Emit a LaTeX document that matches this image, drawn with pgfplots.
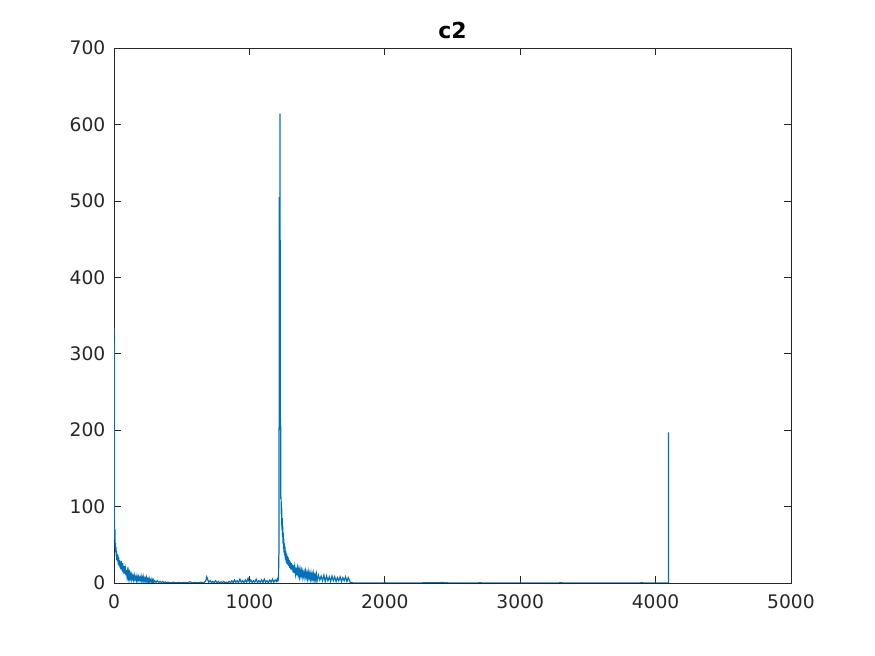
\documentclass[border=0pt]{standalone}
\usepackage{fontspec}
\setmainfont{DejaVu Sans}
\usepackage{pgfplots}
\pgfplotsset{compat=1.18}
\definecolor{mblue}{RGB}{0,114,189}
\definecolor{maxis}{RGB}{38,38,38}

\begin{document}
\begin{tikzpicture}
\path[use as bounding box] (-85.5pt,-54.75pt) rectangle (570.75pt,437.25pt);
\begin{axis}[
	scale only axis,
	width=507.75pt,
	height=401.25pt,
	xmin=0, xmax=5000,
	ymin=0, ymax=700,
	xtick={0,1000,...,5000},
	ytick={0,100,...,700},
	axis line style={maxis, line width=0.5pt},
	tick style={maxis, line width=0.5pt},
	tick align=inside,
	major tick length=5pt,
	ticklabel style={font=\fontsize{14}{16}\selectfont, text=maxis},
	xticklabel style={yshift=-5pt},
	yticklabel style={xshift=-3pt},
	/pgf/number format/assume math mode=true,
	/pgf/number format/set thousands separator={},
	title={\textbf{c2}},
	title style={font=\fontsize{16.5}{18}\selectfont, yshift=-3pt},
	clip=true]

	% signal
	\addplot[color=mblue, line width=0.9pt] coordinates {
		(1,333) (2,168) (3,76) (5,58) (7,70) (9,45) (11,52) (13,40) (15,47)
		(17,35) (19,42) (21,30) (23,38) (26,28) (29,36) (32,24) (35,33) (38,22)
		(41,30) (44,20) (47,27) (50,18) (53,29) (56,19) (59,24) (62,15) (65,26)
		(68,14) (71,21) (74,12) (77,22) (80,13) (84,18) (88,10) (92,17) (96,9)
		(100,15) (104,8) (108,14) (112,6) (116,12) (120,7) (124,11) (128,5)
		(132,10) (136,6) (140,9) (145,4) (150,10) (155,5) (160,8) (165,3)
		(170,9) (175,4) (180,8) (185,3) (190,7) (195,4) (200,9) (205,3)
		(210,7) (215,2) (220,8) (225,3) (230,6) (235,2) (240,7) (245,2)
		(250,5) (255,1) (260,6) (265,2) (270,4) (275,1) (280,5) (285,1)
		(290,4) (295,1) (300,3) (310,1) (320,3) (330,0.5) (340,2) (350,0.5)
		(360,2) (370,0.3) (380,1.5) (390,0.3) (400,1) (420,0.2) (440,1)
		(460,0.2) (480,0.8) (500,0.2) (520,0.8) (540,0.2) (560,1.5) (580,0.2)
		(600,0.8) (620,0.2) (640,1) (660,0.3) (675,2) (680,4) (685,8) (690,6)
		(695,3) (700,1) (710,3) (720,0.5) (730,2) (740,0.5) (750,3) (760,0.5)
		(770,2) (780,0.3) (790,1.5) (800,0.5) (810,2) (820,0.3) (830,1)
		(840,0.5) (850,2) (860,0.3) (870,3) (880,0.5) (890,4) (900,1) (910,3)
		(920,0.5) (930,5) (940,1) (950,3) (960,0.5) (970,4) (980,1) (990,6)
		(1000,1) (1010,4) (1020,0.5) (1030,3) (1040,1) (1050,5) (1060,0.5)
		(1070,3) (1080,1) (1090,4) (1100,0.5) (1110,5) (1120,1) (1130,3)
		(1140,0.5) (1150,4) (1160,1) (1170,5) (1180,1) (1190,4) (1200,2)
		(1205,5) (1210,3) (1213,6) (1215,3) (1217,35) (1219,40) (1220,505)
		(1221,460) (1222,500) (1223,440) (1224,455) (1225,448) (1226,614)
		(1227,450) (1228,440) (1229,205) (1230,200) (1231,205) (1232,110)
		(1234,112) (1236,90) (1238,100) (1240,70) (1242,85) (1244,60) (1246,75)
		(1248,52) (1250,66) (1252,45) (1254,58) (1256,40) (1258,52) (1260,36)
		(1263,48) (1266,30) (1269,42) (1272,27) (1275,38) (1278,25) (1281,35)
		(1284,24) (1287,33) (1290,22) (1294,30) (1298,20) (1302,28) (1306,18)
		(1310,26) (1314,17) (1318,24) (1322,14) (1326,23) (1330,13) (1335,21)
		(1340,12) (1345,20) (1350,10) (1355,19) (1360,11) (1365,18) (1370,9)
		(1375,17) (1380,10) (1385,16) (1390,8) (1395,15) (1400,9) (1405,14)
		(1410,7) (1415,15) (1420,8) (1425,13) (1430,6) (1435,14) (1440,7)
		(1445,12) (1450,5) (1455,13) (1460,6) (1465,11) (1470,4) (1475,12)
		(1480,5) (1485,10) (1490,4) (1495,11) (1500,3) (1510,10) (1520,4)
		(1530,9) (1540,3) (1550,10) (1560,2) (1570,9) (1580,3) (1590,8)
		(1600,2) (1610,9) (1620,3) (1630,8) (1640,2) (1650,7) (1660,3)
		(1670,8) (1680,2) (1690,7) (1700,3) (1710,8) (1720,2) (1730,7)
		(1740,3) (1745,0.3) (1800,0) (2000,0.2) (2200,0) (2440,0.6) (2450,0)
		(2460,0.5) (2470,0) (2700,0.2) (3000,0) (3300,0.2) (3600,0)
		(3900,0.2) (4095,0) (4096,197)};
\end{axis}
\end{tikzpicture}
\end{document}
